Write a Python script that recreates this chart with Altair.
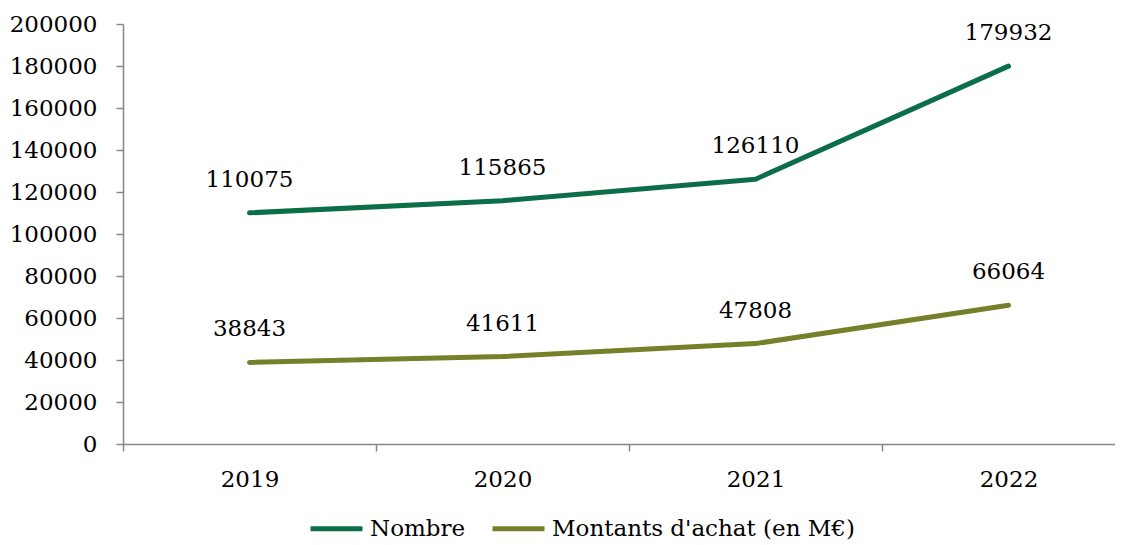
import altair as alt
import pandas as pd

years = ["2019", "2020", "2021", "2022"]
nombre = [110075, 115865, 126110, 179932]
montants = [38843, 41611, 47808, 66064]
series_names = ["Nombre", "Montants d'achat (en M€)"]
colors = ["#0c6e46", "#76802a"]

rows = []
for y, v in zip(years, nombre):
    rows.append({"year": y, "value": v, "series": series_names[0]})
for y, v in zip(years, montants):
    rows.append({"year": y, "value": v, "series": series_names[1]})
df = pd.DataFrame(rows)

FONT = "DejaVu Serif"
FS = 23

x = alt.X("year:O", sort=years, title=None,
          scale=alt.Scale(range=[0, 1012], paddingInner=0, paddingOuter=0),
          axis=alt.Axis(labelAngle=0, tickBand="extent", domainColor="#888888",
                        tickColor="#888888", tickSize=7, labelPadding=17,
                        labelFontSize=FS, labelFont=FONT, labelColor="#000000",
                        domainWidth=1.5, tickWidth=1.5))
y = alt.Y("value:Q", title=None,
          scale=alt.Scale(domain=[0, 200000], nice=False),
          axis=alt.Axis(values=list(range(0, 200001, 20000)), format="d",
                        grid=False, domainColor="#888888", tickColor="#888888",
                        tickSize=7, labelPadding=19, labelFontSize=FS,
                        labelFont=FONT, labelColor="#000000",
                        domainWidth=1.5, tickWidth=1.5))
color = alt.Color("series:N", sort=series_names,
                  scale=alt.Scale(domain=series_names, range=colors),
                  legend=alt.Legend(orient="none", legendX=185, legendY=476,
                                    direction="horizontal", title=None,
                                    symbolType="stroke", symbolSize=2704,
                                    symbolStrokeWidth=5, labelFontSize=FS,
                                    labelFont=FONT, labelColor="#000000",
                                    labelOffset=5, columnPadding=16,
                                    labelLimit=500))

base = alt.Chart(df)
lines = base.mark_line(strokeWidth=5, strokeCap="round", strokeJoin="round").encode(
    x=x, y=y, color=color)
labels = base.mark_text(dy=-26, fontSize=FS, font=FONT, color="#000000",
                        baseline="alphabetic").encode(
    x=alt.X("year:O", sort=years), y="value:Q", text=alt.Text("value:Q", format="d"))

chart = (lines + labels).properties(
    width=992, height=420,
    autosize=alt.AutoSizeParams(type="none"),
    padding={"left": 115, "top": 16, "right": 0, "bottom": 99},
).configure_view(stroke=None)

chart.save("out.html", embed_options={"renderer": "svg", "actions": False})
